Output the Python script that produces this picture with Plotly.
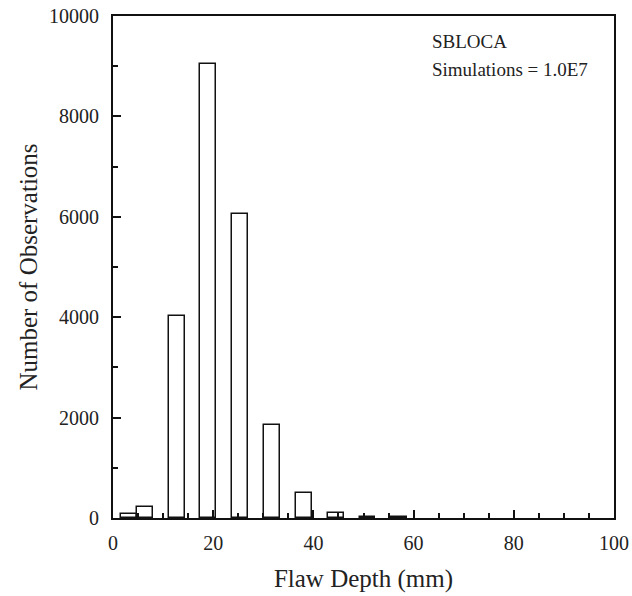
import plotly.graph_objects as go

# Data
flaw_depth_mm = [3.175, 6.35, 12.7, 19.05, 25.4, 31.75, 38.1, 44.45, 50.8, 57.15]
observations = [70, 220, 4020, 9050, 6050, 1860, 500, 100, 25, 12]
bar_width = 3.175

x_ticks = [0, 20, 40, 60, 80, 100]
y_ticks = [0, 2000, 4000, 6000, 8000, 10000]
y_tick_labels = ["0", "2000", "4000", "6000", "8000", "10000"]

FONT = "Liberation Serif, Times New Roman, serif"

fig = go.Figure()
fig.add_trace(go.Bar(
    x=flaw_depth_mm, y=observations, width=bar_width,
    marker=dict(color="white", line=dict(color="#111111", width=1.5)),
    showlegend=False,
))

axis_common = dict(
    showline=True, linecolor="#111111", linewidth=2, mirror=True,
    ticks="inside", ticklen=8, tickwidth=2, tickcolor="#111111",
    showgrid=False, zeroline=False, automargin=False,
    tickfont=dict(family=FONT, size=20, color="#222222"),
)

fig.update_xaxes(
    range=[0, 100], tickvals=x_ticks, ticklabelstandoff=6,
    minor=dict(dtick=5, ticks="inside", ticklen=5, tickwidth=2, tickcolor="#111111", showgrid=False),
    title=dict(text="Flaw Depth (mm)", font=dict(family=FONT, size=25, color="#222222"), standoff=16),
    **axis_common,
)
fig.update_yaxes(
    range=[0, 10000], tickvals=y_ticks, ticktext=y_tick_labels, ticklabelstandoff=8,
    minor=dict(dtick=1000, ticks="inside", ticklen=5, tickwidth=2, tickcolor="#111111", showgrid=False),
    title=dict(text="Number of Observations", font=dict(family=FONT, size=25, color="#222222"), standoff=4),
    **axis_common,
)

fig.add_annotation(
    x=0.633, y=0.95, xref="paper", yref="paper", xanchor="left", yanchor="middle",
    text="SBLOCA", showarrow=False, align="left",
    font=dict(family=FONT, size=19, color="#222222"),
)
fig.add_annotation(
    x=0.633, y=0.894, xref="paper", yref="paper", xanchor="left", yanchor="middle",
    text="Simulations = 1.0E7", showarrow=False, align="left",
    font=dict(family=FONT, size=19, color="#222222"),
)

fig.update_layout(
    width=632, height=596,
    margin=dict(l=113, r=18, t=16, b=78),
    plot_bgcolor="white", paper_bgcolor="white",
    bargap=0,
)

fig.write_html("out.html")
